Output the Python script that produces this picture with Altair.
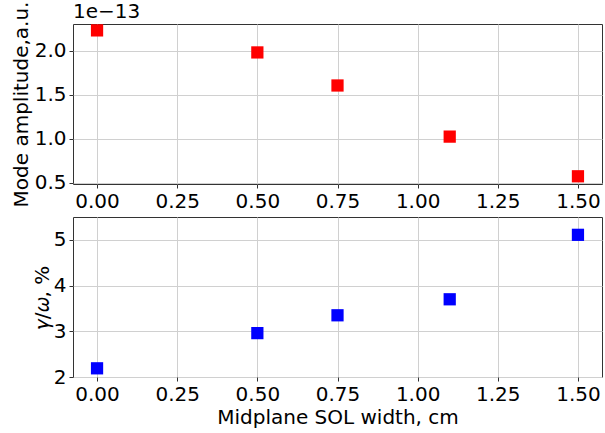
import altair as alt
import pandas as pd

sol_width = [0.0, 0.5, 0.75, 1.1, 1.5]
amplitude_e13 = [2.23, 1.98, 1.605, 1.025, 0.575]
growth_pct = [2.19, 2.96, 3.35, 3.70, 5.11]

x_ticks = [0.0, 0.25, 0.5, 0.75, 1.0, 1.25, 1.5]
amp_ticks = [0.5, 1.0, 1.5, 2.0]
growth_ticks = [2, 3, 4, 5]

df = pd.DataFrame({"x": sol_width, "amp": amplitude_e13, "gr": growth_pct})

FONT = "DejaVu Sans"
W, H = 529, 160

x_scale = alt.Scale(domain=[-0.075, 1.575], nice=False, zero=False)

top_pts = alt.Chart(df).mark_square(size=150, color="#ff0000", opacity=1).encode(
    x=alt.X("x:Q", scale=x_scale,
            axis=alt.Axis(values=x_ticks, format=".2f", title=None)),
    y=alt.Y("amp:Q", scale=alt.Scale(domain=[0.4875, 2.3025], nice=False, zero=False),
            axis=alt.Axis(values=amp_ticks, format=".1f", title="Mode amplitude,a.u.",
                          titlePadding=3)),
)
offset_label = alt.Chart(pd.DataFrame({"t": ["1e\u221213"]})).mark_text(
    align="left", baseline="bottom", font=FONT, fontSize=20, color="black",
).encode(text="t:N", x=alt.value(0), y=alt.value(-2))

top = alt.layer(top_pts, offset_label).properties(width=W, height=H)

bottom = alt.Chart(df).mark_square(size=150, color="#0000ff", opacity=1).encode(
    x=alt.X("x:Q", scale=x_scale,
            axis=alt.Axis(values=x_ticks, format=".2f", title="Midplane SOL width, cm",
                          titlePadding=3)),
    y=alt.Y("gr:Q", scale=alt.Scale(domain=[2, 5.5], nice=False, zero=False),
            axis=alt.Axis(values=growth_ticks, format="d",
                          title="\U0001D6FE/\U0001D714, %",
                          titlePadding=1)),
).properties(width=W, height=H)

chart = alt.vconcat(top, bottom, spacing=33, bounds="flush").properties(
    padding={"left": 10, "top": 0, "right": 2, "bottom": 0},
    background="white",
).configure_view(
    stroke="#333333", strokeWidth=1
).configure_axis(
    labelFont=FONT, titleFont=FONT, labelFontSize=20, titleFontSize=20,
    titleFontWeight="normal", labelColor="black", titleColor="black",
    domain=False, tickColor="#333333", tickSize=4, tickWidth=1, labelPadding=3,
    grid=True, gridColor="#d0d0d0", gridWidth=1,
    labelFlush=False, labelOverlap=False,
)

chart.save("out.html", embed_options={"renderer": "svg", "actions": False})
